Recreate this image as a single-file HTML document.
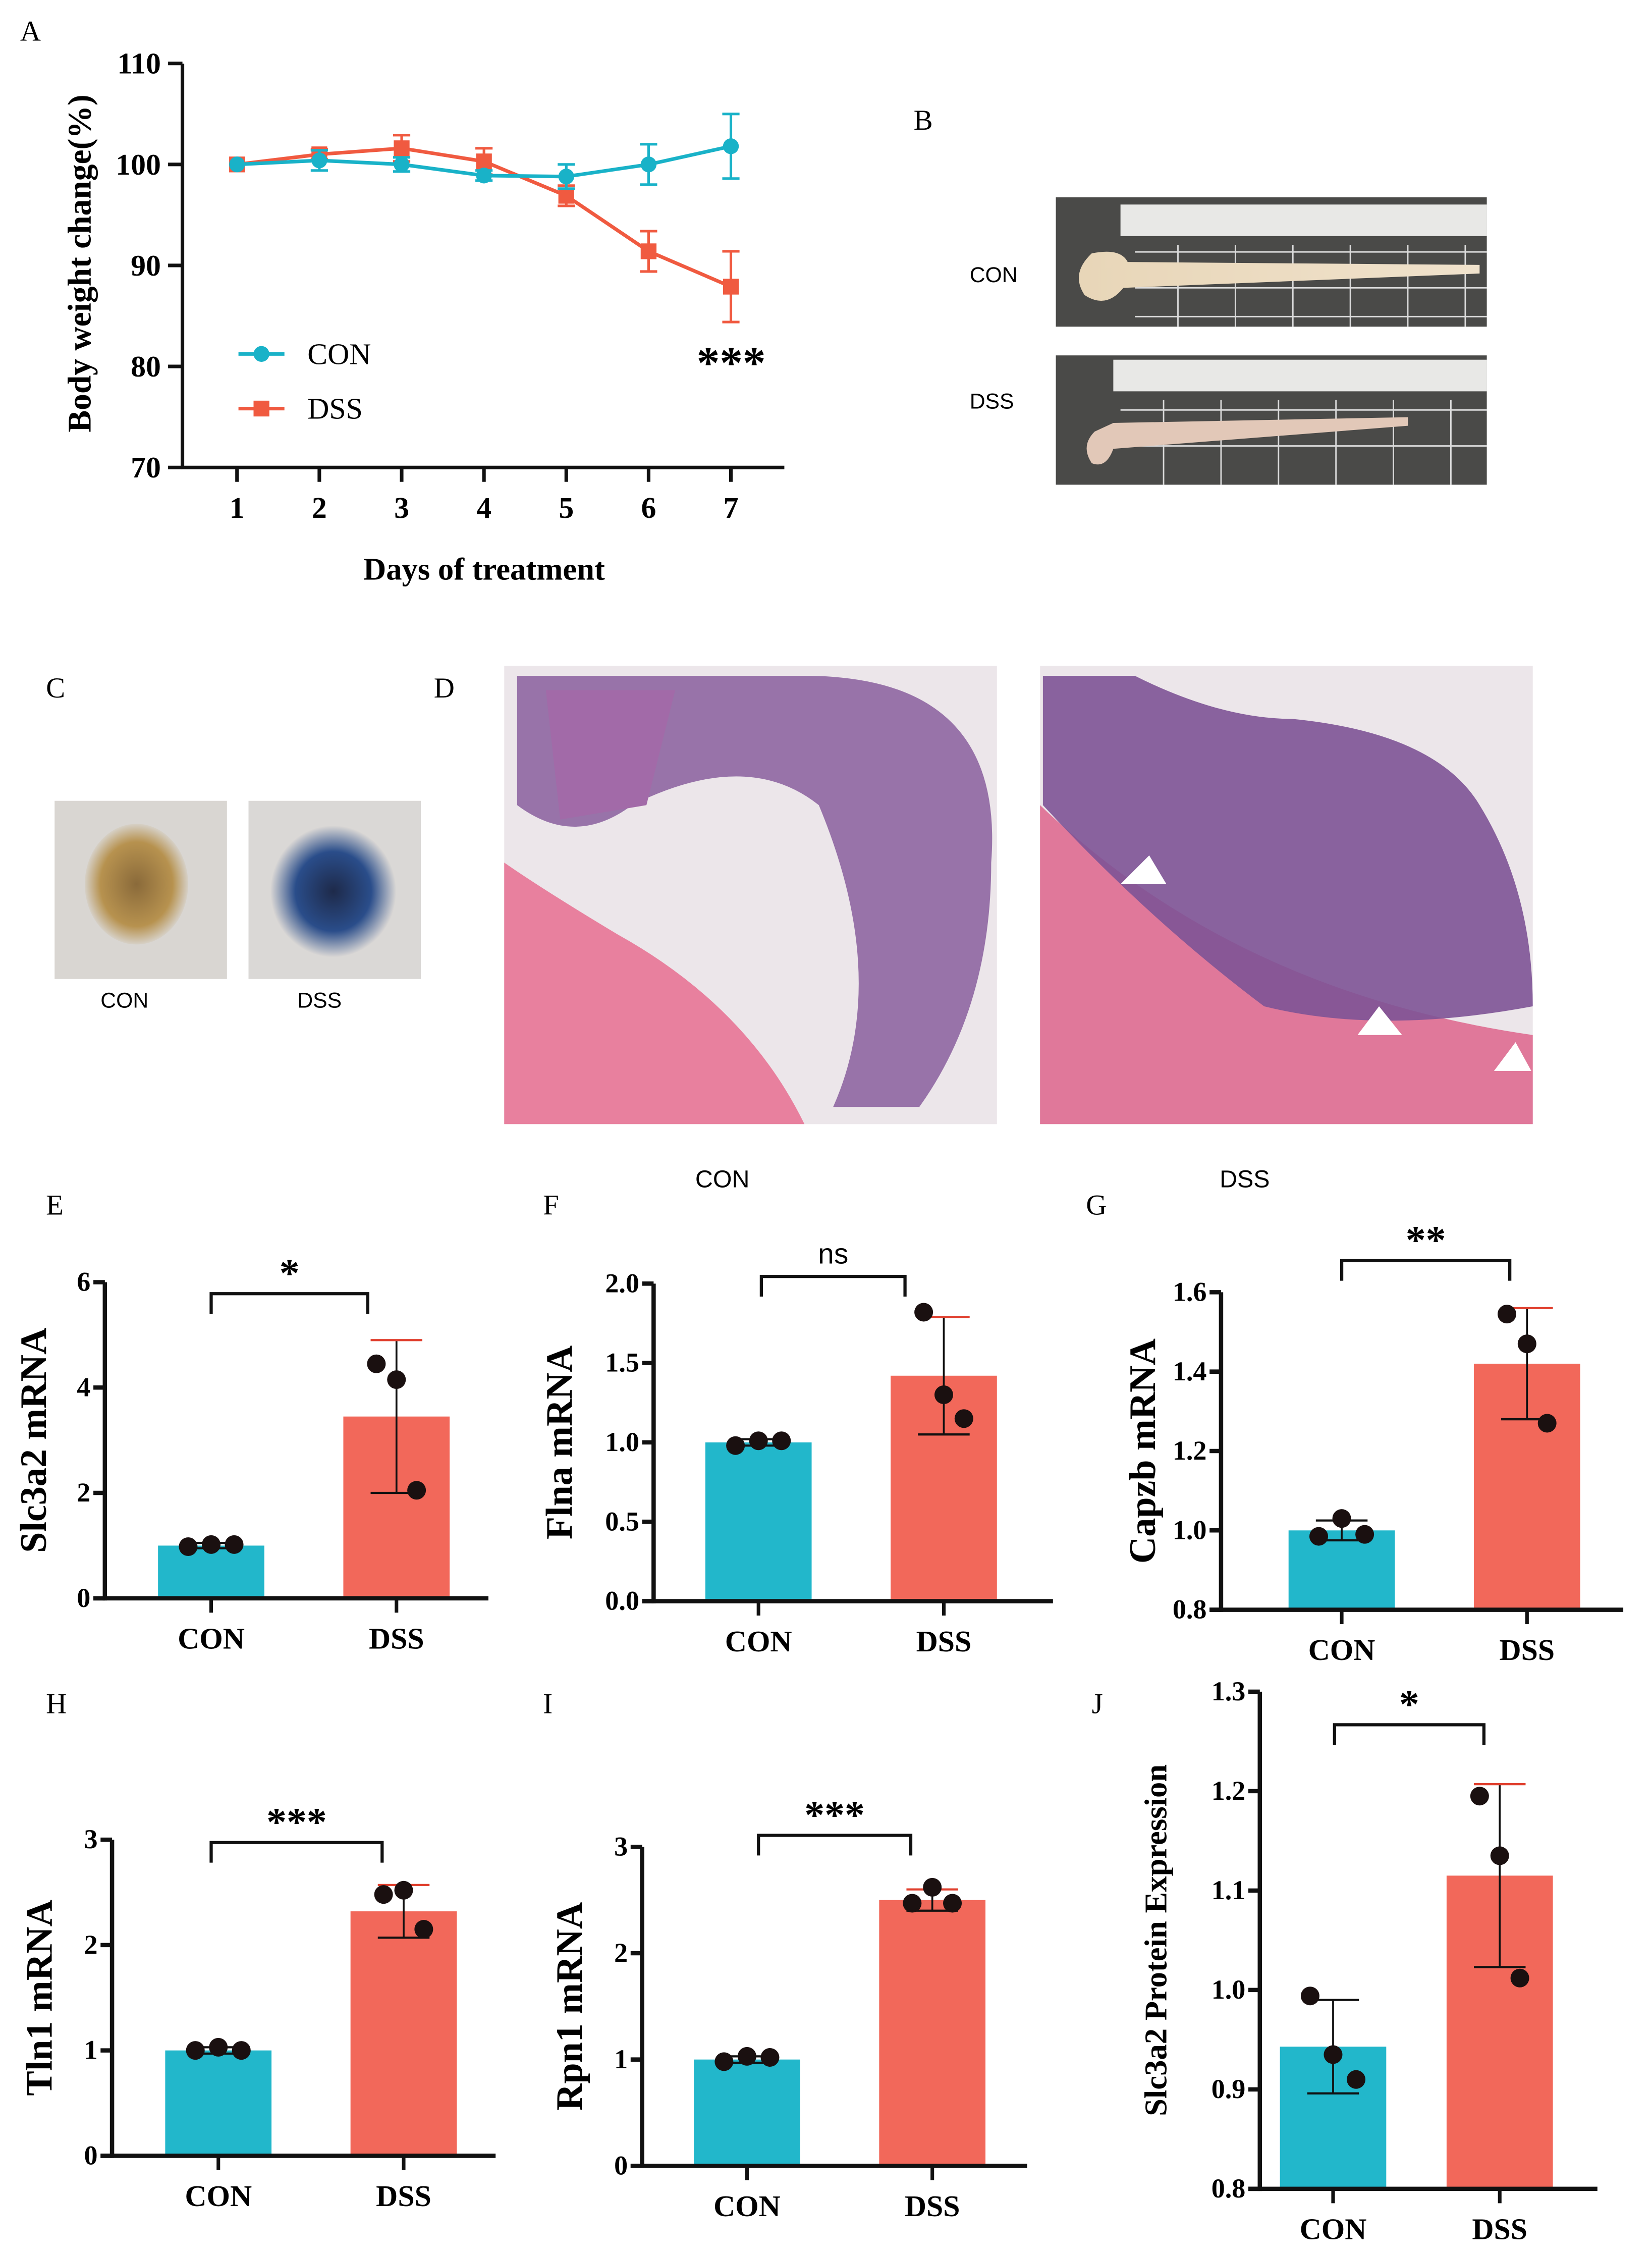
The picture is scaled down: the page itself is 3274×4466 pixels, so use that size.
<!DOCTYPE html>
<html><head><meta charset="utf-8"><style>
html,body{margin:0;padding:0;background:#fff;}
svg{display:block;}
text{font-family:"Liberation Serif",serif;}
.sans{font-family:"Liberation Sans",sans-serif;}
</style></head><body>
<svg id="fig" width="3274" height="4466" viewBox="0 0 1150 1568" xmlns="http://www.w3.org/2000/svg">
<defs>
<linearGradient id="gut" x1="0" x2="1"><stop offset="0" stop-color="#e8d6b8"/><stop offset="1" stop-color="#f0e2cc"/></linearGradient>
<radialGradient id="stool1"><stop offset="0" stop-color="#8a6a3a"/><stop offset="0.7" stop-color="#b7924f"/><stop offset="1" stop-color="#d6d0c6"/></radialGradient>
<radialGradient id="stool2"><stop offset="0" stop-color="#1e2a4a"/><stop offset="0.6" stop-color="#2a4d8a"/><stop offset="1" stop-color="#dcd9d6"/></radialGradient>
</defs>
<g id="panels-text">
<text x="14" y="28" font-size="20">A</text>
<text x="636" y="90" font-size="20">B</text>
<text x="32" y="485" font-size="20">C</text>
<text x="302" y="485" font-size="20">D</text>
<text x="32" y="845" font-size="20">E</text>
<text x="378" y="845" font-size="20">F</text>
<text x="756" y="845" font-size="20">G</text>
<text x="32" y="1192" font-size="20">H</text>
<text x="378" y="1192" font-size="20">I</text>
<text x="760" y="1192" font-size="20">J</text>
</g>
<g>
<rect x="735" y="137" width="300" height="90" fill="#4a4a48"/>
<rect x="780" y="142" width="255" height="22" fill="#e8e8e6"/>
<g stroke="#fff" stroke-width="1" opacity="0.8">
<line x1="790" y1="175" x2="1035" y2="175"/><line x1="790" y1="200" x2="1035" y2="200"/><line x1="790" y1="220" x2="1035" y2="220"/>
<line x1="820" y1="170" x2="820" y2="227"/><line x1="860" y1="170" x2="860" y2="227"/><line x1="900" y1="170" x2="900" y2="227"/><line x1="940" y1="170" x2="940" y2="227"/><line x1="980" y1="170" x2="980" y2="227"/><line x1="1020" y1="170" x2="1020" y2="227"/>
</g>
<path d="M760 176 Q745 190 755 205 Q770 215 782 200 L1030 190 L1030 184 L785 182 Q780 172 760 176Z" fill="url(#gut)"/>
</g>
<text x="675" y="196" font-size="15" class="sans">CON</text>
<g>
<rect x="735" y="247" width="300" height="90" fill="#4a4a48"/>
<rect x="775" y="250" width="260" height="22" fill="#e8e8e6"/>
<g stroke="#fff" stroke-width="1" opacity="0.8">
<line x1="780" y1="285" x2="1035" y2="285"/><line x1="780" y1="310" x2="1035" y2="310"/>
<line x1="810" y1="278" x2="810" y2="337"/><line x1="850" y1="278" x2="850" y2="337"/><line x1="890" y1="278" x2="890" y2="337"/><line x1="930" y1="278" x2="930" y2="337"/><line x1="970" y1="278" x2="970" y2="337"/><line x1="1010" y1="278" x2="1010" y2="337"/>
</g>
<path d="M762 300 Q752 310 760 322 Q770 326 775 312 L980 296 L980 290 L775 294 Z" fill="#e2c8b8"/>
</g>
<text x="675" y="284" font-size="15" class="sans">DSS</text>
<rect x="38" y="557" width="120" height="124" fill="#d9d6d2"/>
<ellipse cx="95" cy="615" rx="36" ry="42" fill="url(#stool1)"/>
<rect x="173" y="557" width="120" height="124" fill="#dad8d6"/>
<ellipse cx="232" cy="620" rx="44" ry="46" fill="url(#stool2)"/>
<text x="70" y="701" font-size="15" class="sans">CON</text>
<text x="207" y="701" font-size="15" class="sans">DSS</text>
<g>
<rect x="351" y="463" width="343" height="319" fill="#ece6ea"/>
<path d="M351 600 L351 782 L560 782 Q520 700 430 650 Q380 620 351 600Z" fill="#e8809e"/>
<path d="M360 470 L560 470 Q700 470 690 600 Q690 700 640 770 L580 770 Q620 680 570 560 Q520 520 440 560 Q400 590 360 560Z" fill="#8a5e9e" opacity="0.85"/>
<path d="M380 480 L470 480 L450 560 L390 570Z" fill="#a26aa8"/>
</g>
<g>
<rect x="724" y="463" width="343" height="319" fill="#ece6ea"/>
<path d="M724 560 Q860 690 1067 720 L1067 782 L724 782Z" fill="#e0789a"/>
<path d="M726 470 L790 470 Q850 500 900 500 Q1000 510 1030 560 Q1067 620 1067 700 Q960 720 880 700 Q800 640 726 560Z" fill="#7e5396" opacity="0.9"/>
<polygon points="780,615 800,595 812,615" fill="#fff"/>
<polygon points="945,720 960,700 976,720" fill="#fff"/>
<polygon points="1040,745 1055,725 1066,745" fill="#fff"/>
</g>
<text x="484" y="826" font-size="17" class="sans">CON</text>
<text x="849" y="826" font-size="17" class="sans">DSS</text>
<g id="lineA"></g>
<g id="bars"></g>
</svg>
<script>
const days = [1,2,3,4,5,6,7];
const conWeight = [100,100.4,100,98.9,98.8,100,101.8];
const conErr = [0,1,0.7,0.5,1.2,2,3.2];
const dssWeight = [100,101,101.6,100.3,96.9,91.4,87.9];
const dssErr = [0,0.5,1.3,1.3,1,2,3.5];
const weightTicks = [70,80,90,100,110];

const groups = ['CON','DSS'];
const slcMeans = [1.0,3.45]; const slcErr = [0.05,1.45]; const slcPts = [[0.98,1.02,1.02],[4.45,4.15,2.05]];
const flnaMeans = [1.0,1.42]; const flnaErr = [0.02,0.37]; const flnaPts = [[0.98,1.01,1.01],[1.82,1.3,1.15]];
const capMeans = [1.0,1.42]; const capErr = [0.025,0.14]; const capPts = [[0.985,1.03,0.99],[1.545,1.47,1.27]];
const tlnMeans = [1.0,2.32]; const tlnErr = [0.03,0.25]; const tlnPts = [[1.0,1.03,1.0],[2.48,2.52,2.15]];
const rpnMeans = [1.0,2.5]; const rpnErr = [0.03,0.1]; const rpnPts = [[0.98,1.03,1.02],[2.47,2.62,2.47]];
const protMeans = [0.943,1.115]; const protErr = [0.047,0.092]; const protPts = [[0.994,0.935,0.91],[1.195,1.135,1.012]];

const NS='http://www.w3.org/2000/svg';
function mk(tag, attrs, parent, txt){const e=document.createElementNS(NS,tag);for(const k in attrs)e.setAttribute(k,attrs[k]);if(txt!==undefined)e.textContent=txt;parent.appendChild(e);return e;}

(function(){
 const g=document.getElementById('lineA');
 const X=d=>165+(d-1)*57.3, Y=v=>325-(v-70)*7.03;
 let e=mk('line',{x1:127,y1:44,x2:127,y2:326,stroke:'#111','stroke-width':2.5},g);
  
 e=mk('line',{x1:126,y1:325,x2:546,y2:325,stroke:'#111','stroke-width':2.5},g);
  
 weightTicks.forEach(t=>{mk('line',{x1:117,y1:Y(t),x2:127,y2:Y(t),stroke:'#111','stroke-width':2.5},g);
  e=mk('text',{x:112,y:Y(t)+7,'font-size':21,'font-weight':'bold','text-anchor':'end'},g,String(t));
   });
 days.forEach(d=>{mk('line',{x1:X(d),y1:325,x2:X(d),y2:335,stroke:'#111','stroke-width':2.5},g);
  e=mk('text',{x:X(d),y:360,'font-size':21,'font-weight':'bold','text-anchor':'middle'},g,String(d));
   });
 e=mk('text',{x:337,y:403,'font-size':22,'font-weight':'bold','text-anchor':'middle'},g,'Days of treatment');
  
 e=mk('text',{x:0,y:0,'font-size':23,'font-weight':'bold','text-anchor':'middle',transform:'translate(63,183) rotate(-90)'},g,'Body weight change(%)');
  
 function series(vals,errs,col,sq,name){
  const sg=mk('g',{},g);  
  mk('polyline',{points:days.map((d,i)=>X(d)+','+Y(vals[i])).join(' '),fill:'none',stroke:col,'stroke-width':2.5},sg);
  days.forEach((d,i)=>{ if(errs[i]>0){const x=X(d);
   mk('line',{x1:x,y1:Y(vals[i]+errs[i]),x2:x,y2:Y(vals[i]-errs[i]),stroke:col,'stroke-width':1.8},sg);
   mk('line',{x1:x-6,y1:Y(vals[i]+errs[i]),x2:x+6,y2:Y(vals[i]+errs[i]),stroke:col,'stroke-width':1.8},sg);
   mk('line',{x1:x-6,y1:Y(vals[i]-errs[i]),x2:x+6,y2:Y(vals[i]-errs[i]),stroke:col,'stroke-width':1.8},sg);}
   const p= sq? mk('rect',{x:X(d)-5.5,y:Y(vals[i])-5.5,width:11,height:11,fill:col},sg): mk('circle',{cx:X(d),cy:Y(vals[i]),r:5.5,fill:col},sg);
    });
 }
 series(dssWeight,dssErr,'#f05a40',true,'dss-series');
 series(conWeight,conErr,'#19b2c8',false,'con-series');
 mk('line',{x1:166,y1:246,x2:198,y2:246,stroke:'#19b2c8','stroke-width':2.5},g);
 mk('circle',{cx:182,cy:246,r:5.5,fill:'#19b2c8'},g);
 e=mk('text',{x:214,y:253,'font-size':21},g,'CON');  
 mk('line',{x1:166,y1:284,x2:198,y2:284,stroke:'#f05a40','stroke-width':2.5},g);
 mk('rect',{x:176.5,y:278.5,width:11,height:11,fill:'#f05a40'},g);
 e=mk('text',{x:214,y:291,'font-size':21},g,'DSS');  
 e=mk('text',{x:509,y:263,'font-size':32,'font-weight':'bold','text-anchor':'middle'},g,'***');
  
})();

function barPanel(o){
 const g=mk('g',{},document.getElementById('bars'));
  
 const Y=v=>o.yb-(v-o.min)/(o.max-o.min)*(o.yb-o.yt);
 const cx=[o.c1,o.c1+o.gap]; const cols=['#22b7cb','#f2685a'];
 groups.forEach((gname,i)=>{
  let b=mk('rect',{x:cx[i]-37,y:Y(o.means[i]),width:74,height:o.yb-Y(o.means[i]),fill:cols[i]},g);
   
  const top=Y(o.means[i]+o.err[i]), bot=Y(o.means[i]-o.err[i]);
  mk('line',{x1:cx[i],y1:top,x2:cx[i],y2:bot,stroke:'#111','stroke-width':1.3},g);
  mk('line',{x1:cx[i]-18,y1:top,x2:cx[i]+18,y2:top,stroke:i==1?'#e0402f':'#111','stroke-width':1.5},g);
  mk('line',{x1:cx[i]-18,y1:bot,x2:cx[i]+18,y2:bot,stroke:'#111','stroke-width':1.5},g);
  o.pts[i].forEach((v,j)=>{const p=mk('circle',{cx:cx[i]+(j-1)*(i==0?16:14),cy:Y(v),r:6.5,fill:'#1a1010'},g);
    });
  mk('line',{x1:cx[i],y1:o.yb,x2:cx[i],y2:o.yb+10,stroke:'#111','stroke-width':2.5},g);
  const t=mk('text',{x:cx[i],y:o.yb+35,'font-size':21,'font-weight':'bold','text-anchor':'middle'},g,gname);
   
 });
 let a=mk('line',{x1:o.ax,y1:o.yt,x2:o.ax,y2:o.yb+1.5,stroke:'#111','stroke-width':3},g);
  
 a=mk('line',{x1:o.ax-8,y1:o.yb,x2:o.xend,y2:o.yb,stroke:'#111','stroke-width':3},g);
  
 o.ticks.forEach(t=>{mk('line',{x1:o.ax-8,y1:Y(t),x2:o.ax,y2:Y(t),stroke:'#111','stroke-width':3},g);
  const l=mk('text',{x:o.ax-10,y:Y(t)+6,'font-size':19,'font-weight':'bold','text-anchor':'end'},g,o.fmt(t));
   });
 const tt=mk('text',{x:0,y:0,'font-size':o.tfs||26,'font-weight':'bold','text-anchor':'middle',transform:'translate('+o.tx+','+((o.yt+o.yb)/2)+') rotate(-90)'},g,o.title);
  
 const br=mk('path',{d:'M'+o.b1+' '+(o.by+14)+' V'+o.by+' H'+o.b2+' V'+(o.by+14),fill:'none',stroke:'#111','stroke-width':2.2},g);
  
 const s=mk('text',{x:(o.b1+o.b2)/2,y:o.by-(o.sig=='ns'?9:5),'font-size':o.sig=='ns'?20:28,'font-weight':o.sig=='ns'?'normal':'bold','text-anchor':'middle'},g,o.sig);
 if(o.sig=='ns') s.setAttribute('class','sans');
  
}
const f0=t=>String(t), f1=t=>t.toFixed(1);
barPanel({name:'chart-e-slc3a2',ax:73,yt:892,yb:1112,min:0,max:6,ticks:[0,2,4,6],fmt:f0,c1:147,gap:129,xend:340,means:slcMeans,err:slcErr,pts:slcPts,title:'Slc3a2 mRNA',tx:32,b1:147,b2:256,by:900,sig:'*'});
barPanel({name:'chart-f-flna',ax:455,yt:893,yb:1114,min:0,max:2,ticks:[0,0.5,1,1.5,2],fmt:f1,c1:528,gap:129,xend:733,means:flnaMeans,err:flnaErr,pts:flnaPts,title:'Flna mRNA',tx:398,b1:530,b2:630,by:888,sig:'ns'});
barPanel({name:'chart-g-capzb',ax:850,yt:899,yb:1120,min:0.8,max:1.6,ticks:[0.8,1.0,1.2,1.4,1.6],fmt:f1,c1:934,gap:129,xend:1130,means:capMeans,err:capErr,pts:capPts,title:'Capzb mRNA',tx:804,b1:934,b2:1051,by:877,sig:'**'});
barPanel({name:'chart-h-tln1',ax:78,yt:1280,yb:1500,min:0,max:3,ticks:[0,1,2,3],fmt:f0,c1:152,gap:129,xend:345,means:tlnMeans,err:tlnErr,pts:tlnPts,title:'Tln1 mRNA',tx:36,b1:147,b2:266,by:1282,sig:'***'});
barPanel({name:'chart-i-rpn1',ax:447,yt:1285,yb:1507,min:0,max:3,ticks:[0,1,2,3],fmt:f0,c1:520,gap:129,xend:715,means:rpnMeans,err:rpnErr,pts:rpnPts,title:'Rpn1 mRNA',tx:405,b1:528,b2:634,by:1277,sig:'***'});
barPanel({name:'chart-j-slc3a2-protein',ax:877,yt:1177,yb:1523,min:0.8,max:1.3,ticks:[0.8,0.9,1.0,1.1,1.2,1.3],fmt:f1,c1:928,gap:116,xend:1112,means:protMeans,err:protErr,pts:protPts,title:'Slc3a2 Protein Expression',tfs:22,tx:812,b1:929,b2:1033,by:1200,sig:'*'});
</script>
</body></html>
